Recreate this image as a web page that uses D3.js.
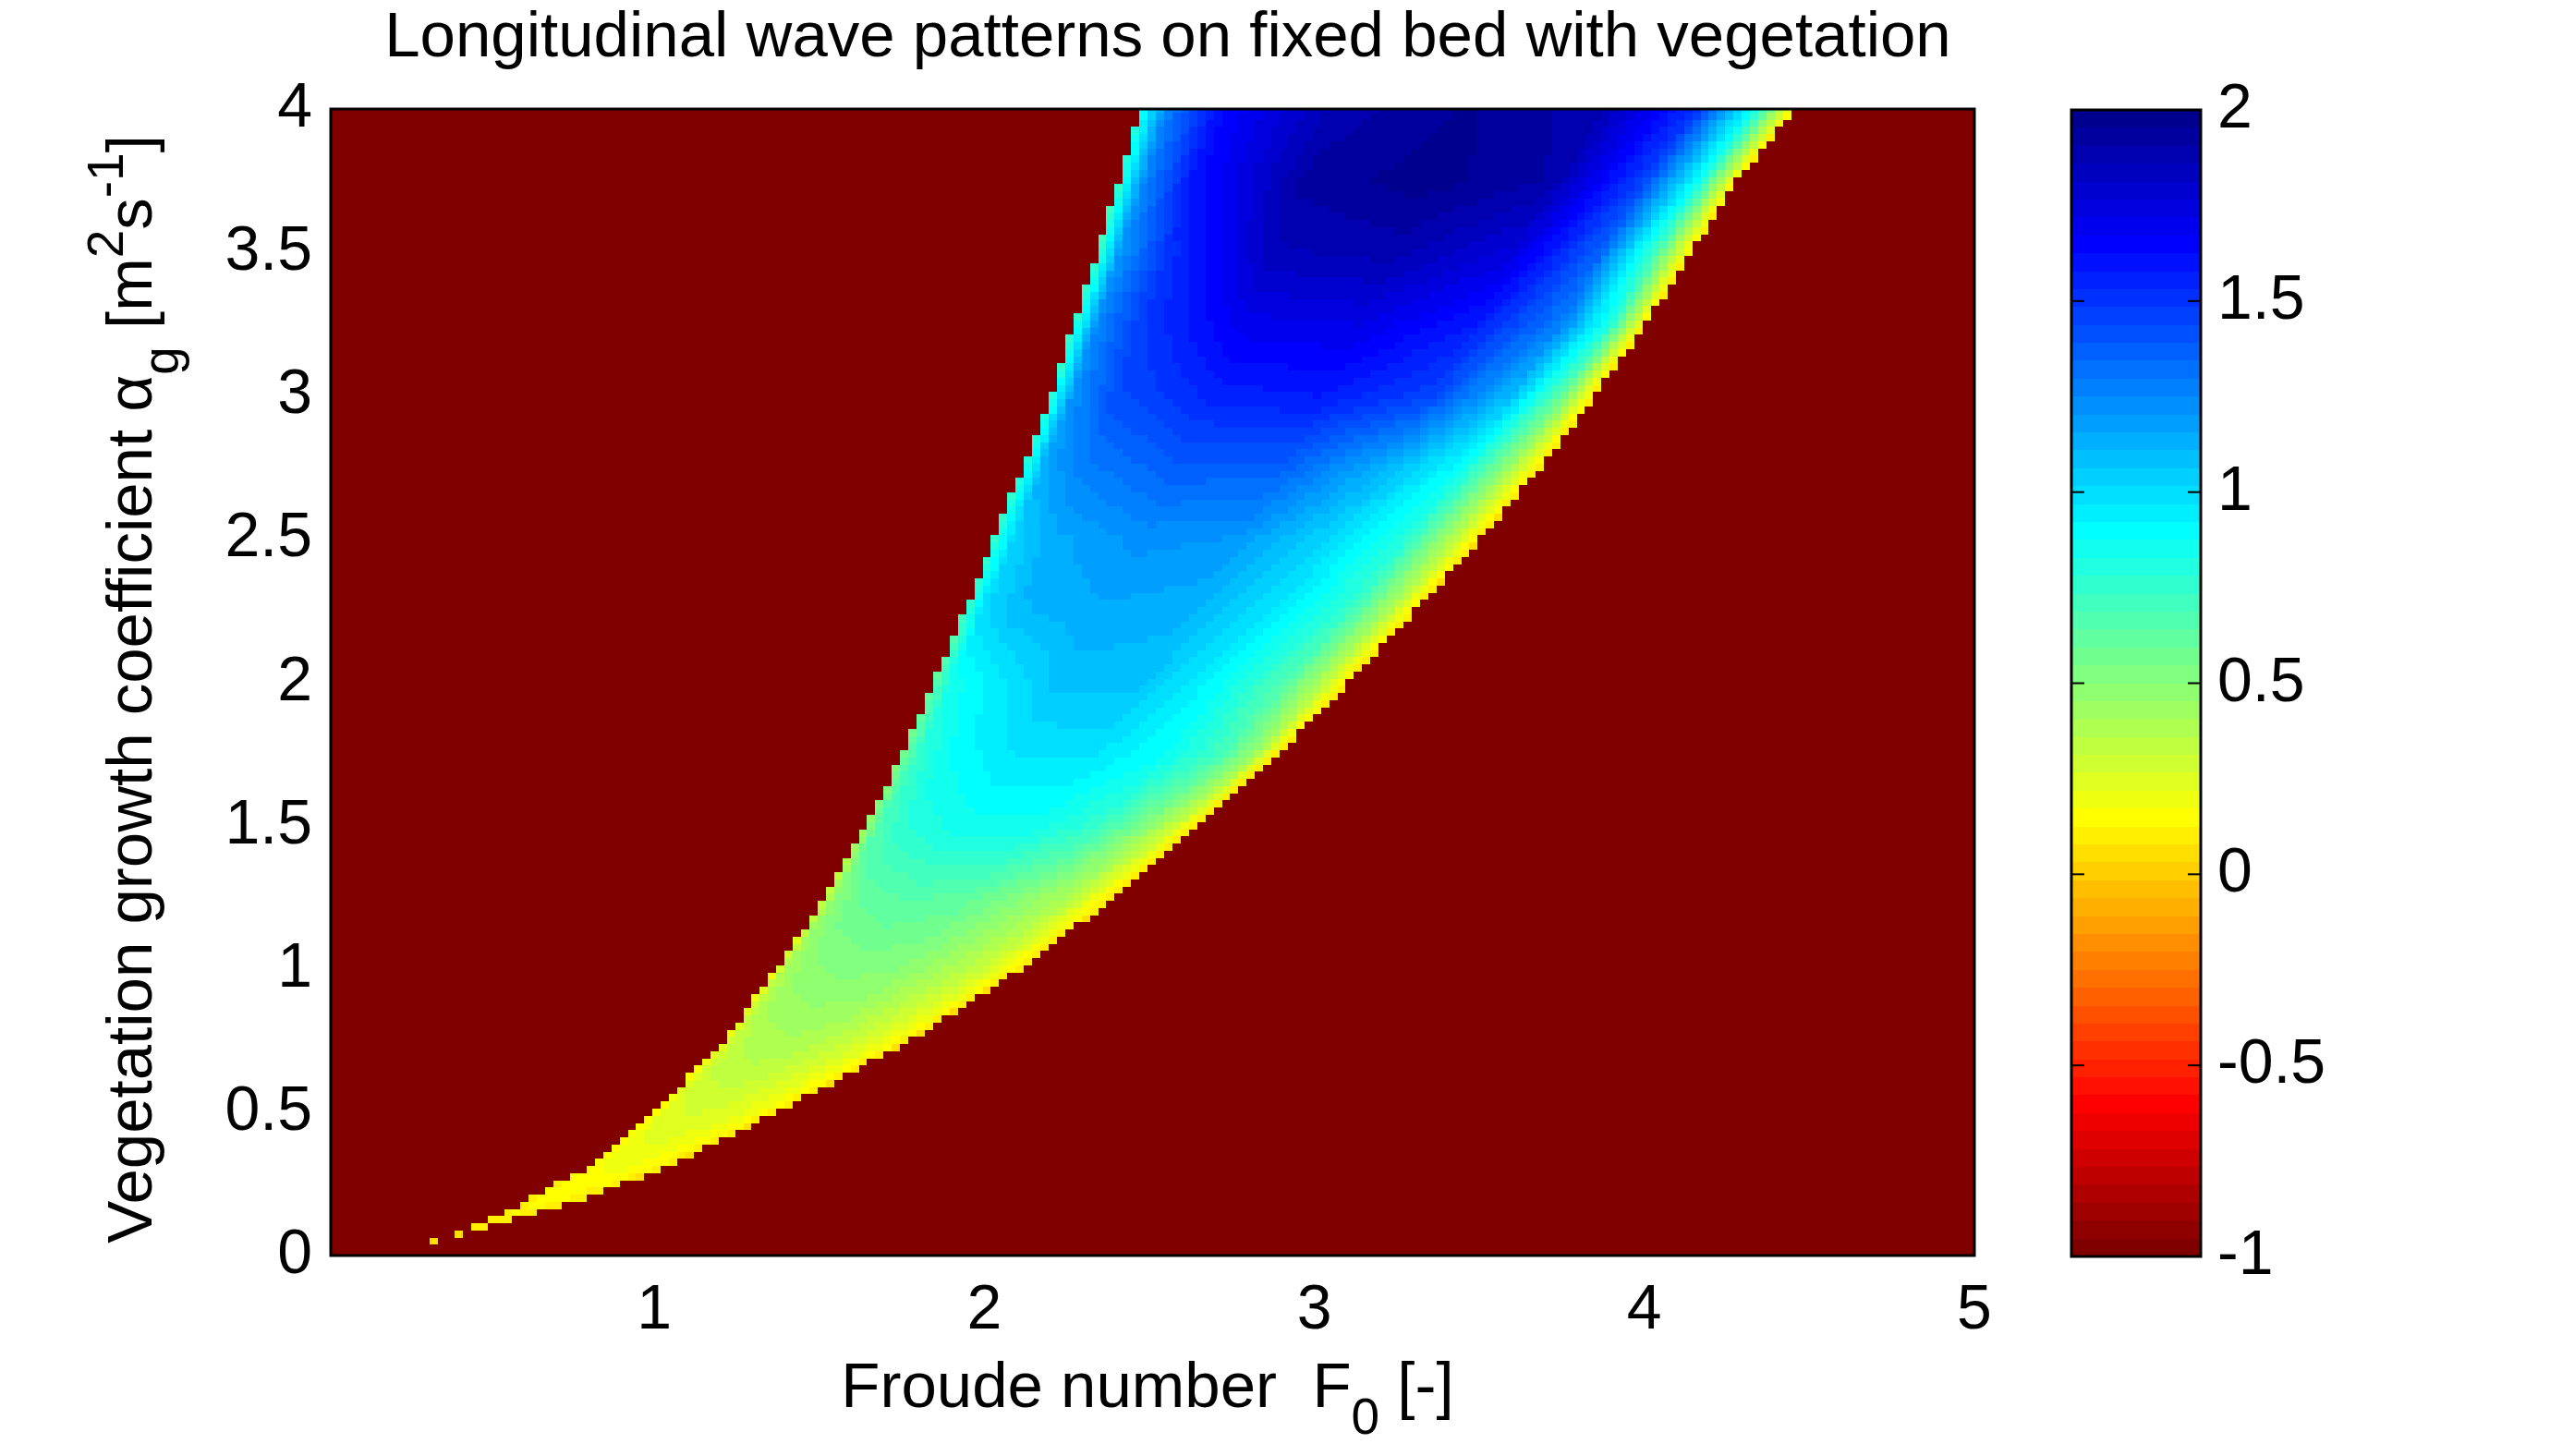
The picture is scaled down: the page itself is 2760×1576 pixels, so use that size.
<!DOCTYPE html>
<html><head><meta charset="utf-8">
<script src="https://cdn.jsdelivr.net/npm/d3@7"></script>
<style>html,body{margin:0;padding:0;background:#fff}</style>
</head><body>
<svg id="chart" width="2760" height="1576" xmlns="http://www.w3.org/2000/svg"></svg>
<script>
// ---------------- data ----------------
const titleText = "Longitudinal wave patterns on fixed bed with vegetation";
const xTickValues = [1, 2, 3, 4, 5];
const yTickValues = [0, 0.5, 1, 1.5, 2, 2.5, 3, 3.5, 4];
const yTickLabels = ["0", "0.5", "1", "1.5", "2", "2.5", "3", "3.5", "4"];
const cTickValues = [-1, -0.5, 0, 0.5, 1, 1.5, 2];
const cTickLabels = ["-1", "-0.5", "0", "0.5", "1", "1.5", "2"];
const xDomain = [0.02, 5];
const yDomain = [0, 4];
const cDomain = [-1, 2];
const gridStepF = 0.025;
const gridStepA = 0.025;
const outsideValue = -1;

// edges of the coloured (pattern) region: vegetation growth alpha -> Froude number
const boundaryAlpha = [0.1, 0.15, 0.2, 0.25, 0.3, 0.4, 0.5, 0.75, 1.0, 1.25, 1.5, 1.75, 2.0, 2.25, 2.5, 2.75, 3.0, 3.25, 3.5, 3.75, 4.0];
const leftEdgeF  = [0.45, 0.54, 0.63, 0.70, 0.79, 0.90, 1.003, 1.211, 1.370, 1.517, 1.644, 1.753, 1.848, 1.94, 2.03, 2.117, 2.201, 2.271, 2.34, 2.41, 2.477];
const rightEdgeF = [0.495, 0.64, 0.79, 0.902, 1.02, 1.20, 1.374, 1.778, 2.115, 2.393, 2.643, 2.890, 3.105, 3.306, 3.503, 3.685, 3.850, 4.004, 4.141, 4.28, 4.455];

// values across the region: fraction t from left edge (0) to right edge (1)
const profileT = [0, 0.04, 0.12, 0.3, 0.5, 0.7, 0.85, 0.94, 1];
const profileAlpha = [0.1, 0.25, 0.5, 0.75, 1.0, 1.25, 1.5, 1.75, 2.0, 2.25, 2.5, 2.75, 3.0, 3.25, 3.5, 3.75, 4.0];
const profile_a010 = [0.08, 0.09, 0.10, 0.11, 0.11, 0.10, 0.09, 0.08, 0.07];
const profile_a025 = [0.10, 0.12, 0.14, 0.16, 0.16, 0.14, 0.12, 0.10, 0.07];
const profile_a050 = [0.12, 0.20, 0.25, 0.27, 0.26, 0.22, 0.17, 0.12, 0.06];
const profile_a075 = [0.15, 0.30, 0.37, 0.40, 0.38, 0.30, 0.22, 0.15, 0.06];
const profile_a100 = [0.20, 0.40, 0.48, 0.52, 0.50, 0.40, 0.30, 0.18, 0.06];
const profile_a125 = [0.30, 0.50, 0.60, 0.65, 0.62, 0.50, 0.38, 0.20, 0.07];
const profile_a150 = [0.45, 0.68, 0.78, 0.86, 0.86, 0.75, 0.50, 0.30, 0.08];
const profile_a175 = [0.55, 0.75, 0.88, 0.97, 0.98, 0.88, 0.70, 0.45, 0.08];
const profile_a200 = [0.60, 0.85, 0.92, 1.08, 1.08, 0.88, 0.65, 0.35, 0.08];
const profile_a225 = [0.70, 1.00, 1.10, 1.15, 1.12, 0.95, 0.75, 0.40, 0.07];
const profile_a250 = [0.75, 1.02, 1.14, 1.22, 1.20, 1.00, 0.78, 0.38, 0.06];
const profile_a275 = [0.75, 1.15, 1.28, 1.38, 1.37, 1.12, 0.88, 0.45, 0.07];
const profile_a300 = [0.75, 1.22, 1.42, 1.55, 1.58, 1.45, 1.08, 0.60, 0.08];
const profile_a325 = [0.75, 1.25, 1.48, 1.70, 1.72, 1.58, 1.28, 0.80, 0.08];
const profile_a350 = [0.70, 1.20, 1.50, 1.85, 1.88, 1.75, 1.35, 0.70, 0.08];
const profile_a375 = [0.75, 1.25, 1.60, 1.92, 1.98, 1.90, 1.45, 0.85, 0.10];
const profile_a400 = [0.85, 1.28, 1.62, 1.88, 1.96, 1.88, 1.50, 0.85, 0.10];
const profileRows = [profile_a010, profile_a025, profile_a050, profile_a075, profile_a100, profile_a125,
  profile_a150, profile_a175, profile_a200, profile_a225, profile_a250, profile_a275, profile_a300,
  profile_a325, profile_a350, profile_a375, profile_a400];

// isolated cells below the tip of the region
const isolatedF = [0.3325, 0.4075];
const isolatedA = [0.05, 0.075];
const isolatedV = [0.07, 0.07];

// ---------------- drawing ----------------
const svg = d3.select("#chart");
const FONT = "'Liberation Sans', Arial, Helvetica, sans-serif";
const FS = 68;
const FSL = 69;
const plot = {x0: 358, x1: 2137, y0: 118, y1: 1359};
const cbar = {x0: 2242, x1: 2382, y0: 119, y1: 1360};

const x = d3.scaleLinear().domain(xDomain).range([plot.x0, plot.x1]);
const y = d3.scaleLinear().domain(yDomain).range([plot.y1, plot.y0]);

// MATLAB jet(64), flipped (dark red at the low end, dark blue at the high end)
function jet64() {
  const m = 64, n = 16, u = [];
  for (let i = 1; i <= n; i++) u.push(i / n);
  for (let i = 0; i < n - 1; i++) u.push(1);
  for (let i = n; i >= 1; i--) u.push(i / n);
  const J = Array.from({length: m}, () => [0, 0, 0]);
  u.forEach((val, j) => {
    const g = 8 + j, r = g + 16, b = g - 16;
    if (g < m) J[g][1] = val;
    if (r < m) J[r][0] = val;
    if (b >= 0) J[b][2] = val;
  });
  return J.map(c => d3.rgb(c[0] * 255, c[1] * 255, c[2] * 255).formatHex());
}
const cmap = jet64().reverse();
const color = d3.scaleQuantize().domain(cDomain).range(cmap);

const gImg = svg.append("g").attr("shape-rendering", "crispEdges");
gImg.append("rect")
  .attr("x", x(xDomain[0])).attr("y", y(yDomain[1]))
  .attr("width", x(xDomain[1]) - x(xDomain[0]))
  .attr("height", y(yDomain[0]) - y(yDomain[1]))
  .attr("fill", color(outsideValue));

const leftScale = d3.scaleLinear().domain(boundaryAlpha).range(leftEdgeF).clamp(true);
const rightScale = d3.scaleLinear().domain(boundaryAlpha).range(rightEdgeF).clamp(true);
const rowScales = profileRows.map(r => d3.scaleLinear().domain(profileT).range(r).clamp(true));

function valueAt(F, a) {
  const L = leftScale(a), R = rightScale(a);
  const t = (F - L) / (R - L);
  const vs = rowScales.map(s => s(t));
  return d3.scaleLinear().domain(profileAlpha).range(vs).clamp(true)(a);
}

const cells = [];
const nA = Math.round((yDomain[1] - yDomain[0]) / gridStepA);
const nF = Math.ceil((xDomain[1] - xDomain[0]) / gridStepF);
for (let j = 0; j <= nA; j++) {
  const a = +(j * gridStepA).toFixed(4);
  if (a < boundaryAlpha[0] - 1e-9) continue;
  const L = leftScale(a), R = rightScale(a);
  for (let k = 0; k < nF; k++) {
    const f0 = xDomain[0] + k * gridStepF;
    const fc = f0 + gridStepF / 2;
    if (fc >= L && fc <= R) cells.push({f0: f0, a: a, v: valueAt(fc, a)});
  }
}
isolatedF.forEach((F, i) => cells.push({f0: F - gridStepF / 2, a: isolatedA[i], v: isolatedV[i]}));

gImg.selectAll("rect.cell").data(cells).join("rect")
  .attr("class", "cell")
  .attr("x", d => x(d.f0))
  .attr("width", d => x(Math.min(d.f0 + gridStepF, xDomain[1])) - x(d.f0))
  .attr("y", d => y(Math.min(d.a + gridStepA / 2, yDomain[1])))
  .attr("height", d => y(Math.max(d.a - gridStepA / 2, yDomain[0])) - y(Math.min(d.a + gridStepA / 2, yDomain[1])))
  .attr("fill", d => color(d.v));

// plot frame
svg.append("rect")
  .attr("x", plot.x0).attr("y", plot.y0)
  .attr("width", plot.x1 - plot.x0).attr("height", plot.y1 - plot.y0)
  .attr("fill", "none").attr("stroke", "#000").attr("stroke-width", 3);

// x tick labels
svg.append("g").selectAll("text").data(xTickValues).join("text")
  .attr("x", d => x(d)).attr("y", 1438)
  .attr("text-anchor", "middle")
  .attr("font-family", FONT).attr("font-size", FS)
  .text(d => d);

// y tick labels
svg.append("g").selectAll("text").data(yTickValues).join("text")
  .attr("x", 338).attr("y", d => y(d) + 19)
  .attr("text-anchor", "end")
  .attr("font-family", FONT).attr("font-size", FS)
  .text((d, i) => yTickLabels[i]);

// title
svg.append("text")
  .attr("x", 1264).attr("y", 61)
  .attr("text-anchor", "middle")
  .attr("font-family", FONT).attr("font-size", FSL)
  .text(titleText);

// x label
const xl = svg.append("text")
  .attr("x", 1242).attr("y", 1523)
  .attr("text-anchor", "middle")
  .attr("font-family", FONT).attr("font-size", FSL)
  .attr("xml:space", "preserve");
xl.append("tspan").text("Froude number  F");
xl.append("tspan").attr("font-size", 55).attr("dy", 29).text("0");
xl.append("tspan").attr("dy", -29).text(" [-]");

// y label (rotated)
const yl = svg.append("text")
  .attr("transform", "translate(164,746) rotate(-90)")
  .attr("text-anchor", "middle")
  .attr("font-family", FONT).attr("font-size", FSL)
  .attr("xml:space", "preserve");
yl.append("tspan").text("Vegetation growth coefficient ");
yl.append("tspan").text("\u03B1");
yl.append("tspan").attr("font-size", 55).attr("dy", 29).text("g");
yl.append("tspan").attr("dy", -29).text(" [m");
yl.append("tspan").attr("font-size", 55).attr("dy", -31).text("2");
yl.append("tspan").attr("dy", 31).text("s");
yl.append("tspan").attr("font-size", 55).attr("dy", -31).text("-1");
yl.append("tspan").attr("dy", 31).text("]");

// colorbar
const c = d3.scaleLinear().domain(cDomain).range([cbar.y1, cbar.y0]);
const step = (cDomain[1] - cDomain[0]) / cmap.length;
svg.append("g").attr("shape-rendering", "crispEdges")
  .selectAll("rect").data(cmap).join("rect")
  .attr("x", cbar.x0).attr("width", cbar.x1 - cbar.x0)
  .attr("y", (d, i) => c(cDomain[0] + (i + 1) * step))
  .attr("height", (d, i) => c(cDomain[0] + i * step) - c(cDomain[0] + (i + 1) * step))
  .attr("fill", d => d);
svg.append("g").selectAll("line").data(cTickValues).join("line")
  .attr("x1", cbar.x1 - 14).attr("x2", cbar.x1)
  .attr("y1", d => c(d)).attr("y2", d => c(d))
  .attr("stroke", "#000").attr("stroke-width", 2);
svg.append("g").selectAll("line").data(cTickValues).join("line")
  .attr("x1", cbar.x0).attr("x2", cbar.x0 + 14)
  .attr("y1", d => c(d)).attr("y2", d => c(d))
  .attr("stroke", "#000").attr("stroke-width", 2);
svg.append("rect")
  .attr("x", cbar.x0).attr("y", cbar.y0)
  .attr("width", cbar.x1 - cbar.x0).attr("height", cbar.y1 - cbar.y0)
  .attr("fill", "none").attr("stroke", "#000").attr("stroke-width", 3);
svg.append("g").selectAll("text").data(cTickValues).join("text")
  .attr("x", 2400).attr("y", d => c(d) + 19)
  .attr("font-family", FONT).attr("font-size", FS)
  .text((d, i) => cTickLabels[i]);
</script>
</body></html>
